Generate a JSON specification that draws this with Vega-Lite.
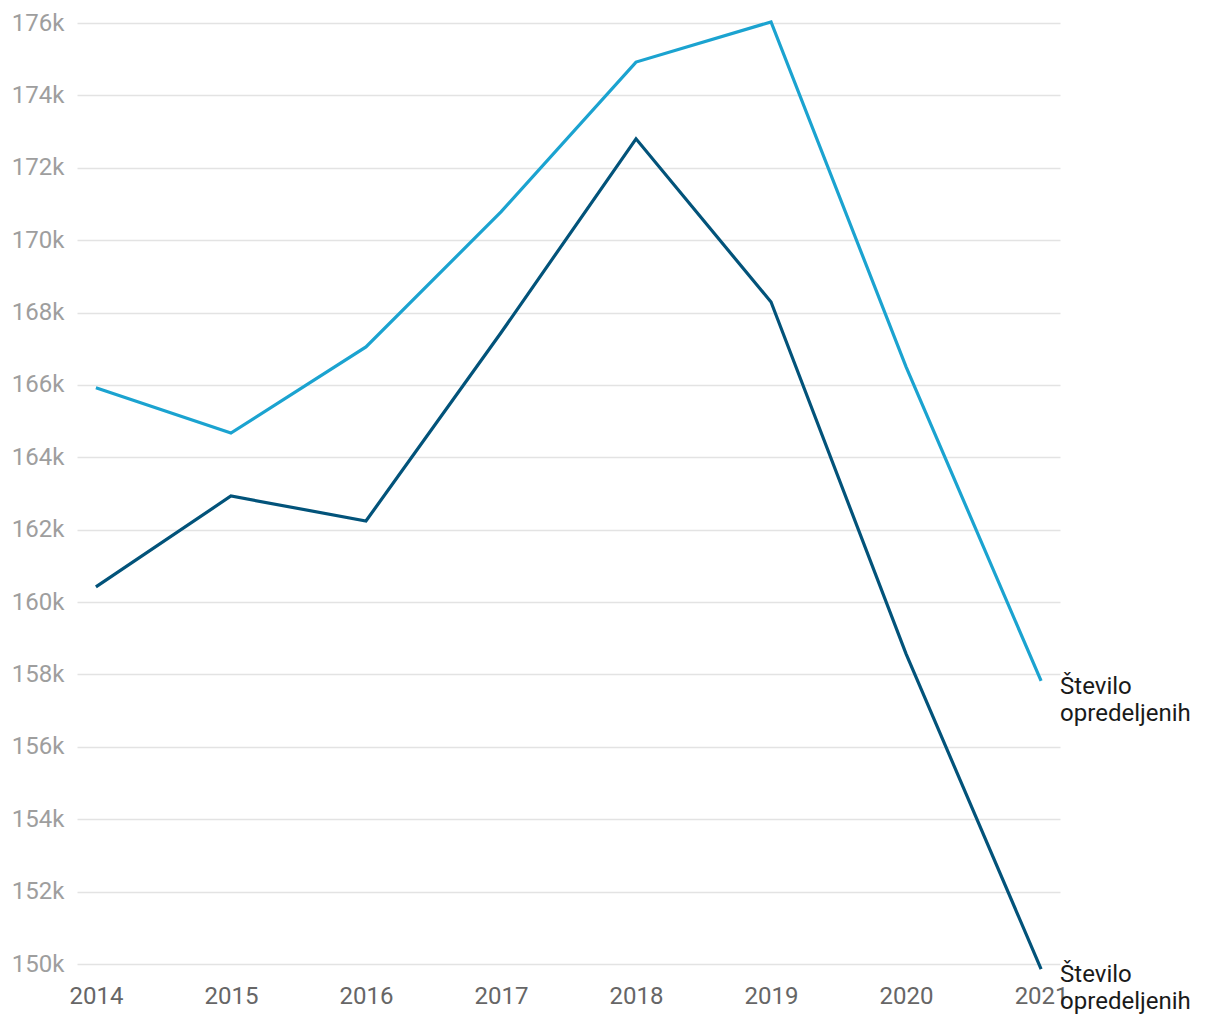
{
  "$schema": "https://vega.github.io/schema/vega-lite/v6.json",
  "autosize": {"type": "none"},
  "padding": {"left": 77, "top": 23, "right": 160, "bottom": 56},
  "width": 983,
  "height": 941,
  "config": {
    "font": "Roboto",
    "view": {"stroke": null},
    "axis": {"labelFont": "Roboto"}
  },
  "data": {
    "values": [
      {"year": "2014", "series": "A", "label": "Število opredeljenih", "value": 165920},
      {"year": "2015", "series": "A", "label": "Število opredeljenih", "value": 164670},
      {"year": "2016", "series": "A", "label": "Število opredeljenih", "value": 167050},
      {"year": "2017", "series": "A", "label": "Število opredeljenih", "value": 170780},
      {"year": "2018", "series": "A", "label": "Število opredeljenih", "value": 174920},
      {"year": "2019", "series": "A", "label": "Število opredeljenih", "value": 176030},
      {"year": "2020", "series": "A", "label": "Število opredeljenih", "value": 166500},
      {"year": "2021", "series": "A", "label": "Število opredeljenih", "value": 157820},
      {"year": "2014", "series": "B", "label": "Število opredeljenih", "value": 160420},
      {"year": "2015", "series": "B", "label": "Število opredeljenih", "value": 162930},
      {"year": "2016", "series": "B", "label": "Število opredeljenih", "value": 162240},
      {"year": "2017", "series": "B", "label": "Število opredeljenih", "value": 167440},
      {"year": "2018", "series": "B", "label": "Število opredeljenih", "value": 172800},
      {"year": "2019", "series": "B", "label": "Število opredeljenih", "value": 168290},
      {"year": "2020", "series": "B", "label": "Število opredeljenih", "value": 158570},
      {"year": "2021", "series": "B", "label": "Število opredeljenih", "value": 149860}
    ]
  },
  "encoding": {
    "x": {
      "field": "year",
      "type": "ordinal",
      "scale": {"type": "point", "padding": 0.14},
      "axis": {
        "title": null,
        "labelAngle": 0,
        "domain": false,
        "ticks": false,
        "grid": false,
        "labelFontSize": 24,
        "labelColor": "#666666",
        "labelPadding": 20
      }
    },
    "y": {
      "field": "value",
      "type": "quantitative",
      "scale": {"domain": [150000, 176000], "nice": false, "zero": false},
      "axis": {
        "title": null,
        "values": [150000, 152000, 154000, 156000, 158000, 160000, 162000, 164000, 166000, 168000, 170000, 172000, 174000, 176000],
        "format": "~s",
        "domain": false,
        "ticks": false,
        "grid": true,
        "gridColor": "#e3e3e3",
        "gridWidth": 1.5,
        "labelFontSize": 24,
        "labelColor": "#9e9e9e",
        "labelPadding": 13
      }
    },
    "color": {
      "field": "series",
      "type": "nominal",
      "scale": {"domain": ["A", "B"], "range": ["#1ba3d0", "#02537a"]},
      "legend": null
    }
  },
  "layer": [
    {
      "mark": {"type": "line", "strokeWidth": 3.2, "clip": false}
    },
    {
      "transform": [{"filter": "datum.year == '2021'"}],
      "mark": {
        "type": "text",
        "align": "left",
        "baseline": "alphabetic",
        "dx": 19,
        "dy": 13,
        "fontSize": 24,
        "lineHeight": 27,
        "lineBreak": " ",
        "color": "#1a1a1a"
      },
      "encoding": {
        "text": {"field": "label"},
        "color": {"value": "#1a1a1a"}
      }
    }
  ]
}
